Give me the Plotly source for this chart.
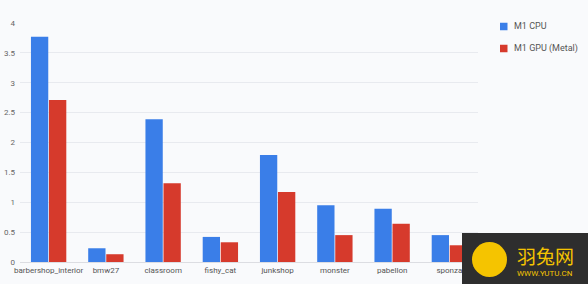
import plotly.graph_objects as go

categories = ["barbershop_interior", "bmw27", "classroom", "fishy_cat", "junkshop", "monster", "pabellon", "sponza"]
cpu_values = [3.77, 0.23, 2.39, 0.42, 1.79, 0.95, 0.89, 0.45]
gpu_values = [2.71, 0.13, 1.32, 0.33, 1.17, 0.45, 0.64, 0.28]
y_ticks = [0, 0.5, 1, 1.5, 2, 2.5, 3, 3.5, 4]
y_ticklabels = ["0", "0.5", "1", "1.5", "2", "2.5", "3", "3.5", "4"]
series_names = ["M1 CPU", "M1 GPU (Metal)"]

BLUE = "#3a7ee8"
RED = "#d63a2c"
BG = "#f9fafc"
W, H = 588, 284
L, R, T, B = 20, 110, 23, 22
PW, PH = W - L - R, H - T - B


def px(x):
    return (x - L) / PW


def py(y):
    return (H - B - y) / PH


fig = go.Figure()
fig.add_trace(go.Bar(x=categories, y=cpu_values, name=series_names[0], marker_color=BLUE,
                     marker_line_width=0))
fig.add_trace(go.Bar(x=categories, y=gpu_values, name=series_names[1], marker_color=RED,
                     marker_line_width=0))

fig.update_layout(
    width=W, height=H,
    margin=dict(l=L, r=R, t=T, b=B, autoexpand=False),
    paper_bgcolor=BG, plot_bgcolor=BG,
    barmode="group", bargap=0.37, bargroupgap=0.04,
    font=dict(family="Roboto, Arial, sans-serif", size=8, color="#666666"),
    xaxis=dict(showgrid=False, showline=True, linecolor="#dcdde2", linewidth=1,
               ticks="", tickfont=dict(size=8, color="#555555"), automargin=False,
               range=[-0.5, len(categories) - 0.5]),
    yaxis=dict(range=[0, 4], tickvals=y_ticks, ticktext=y_ticklabels,
               showgrid=True, gridcolor="#e8eaef", gridwidth=1, zeroline=False,
               ticks="", tickfont=dict(size=8, color="#666666"), ticklabelstandoff=4,
               automargin=False),
    showlegend=False,
)

# legend (compact, as in the reference)
for i, (nm, col) in enumerate(zip(series_names, [BLUE, RED])):
    cy = 26.5 + i * 22
    fig.add_shape(type="rect", xref="paper", yref="paper",
                  x0=px(500), x1=px(507.5), y0=py(cy + 3.75), y1=py(cy - 3.75),
                  fillcolor=col, line_width=0)
    fig.add_annotation(xref="paper", yref="paper", x=px(512), y=py(cy),
                       text=nm, showarrow=False, xanchor="left", yanchor="middle",
                       font=dict(size=9, color="#555555"))

# watermark box (bottom-right)
fig.add_shape(type="rect", xref="paper", yref="paper",
              x0=px(462), x1=px(590), y0=py(286), y1=py(233),
              fillcolor="#2e2e2e", line_width=0, layer="above")
fig.add_shape(type="circle", xref="paper", yref="paper",
              x0=px(472), x1=px(507), y0=py(277), y1=py(242),
              fillcolor="#f5c400", line_width=0, layer="above")
fig.add_annotation(xref="paper", yref="paper", x=px(515), y=py(255),
                   text="羽兔网", showarrow=False, xanchor="left", yanchor="middle",
                   font=dict(family="Noto Sans CJK SC", size=19, color="#f5c400"))
fig.add_annotation(xref="paper", yref="paper", x=px(515), y=py(273),
                   text="WWW.YUTU.CN", showarrow=False, xanchor="left", yanchor="middle",
                   font=dict(family="Roboto", size=8, color="#f5c400"))

fig.write_html("out.html")
